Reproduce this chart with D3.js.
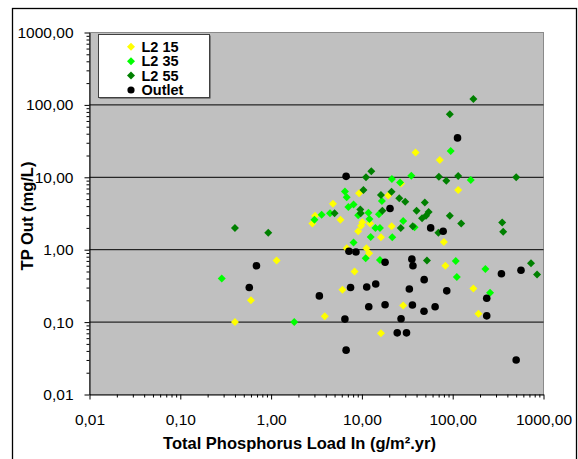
<!DOCTYPE html>
<html>
<head>
<meta charset="utf-8">
<script src="https://cdn.jsdelivr.net/npm/d3@7"></script>
<style>
  html, body { margin: 0; padding: 0; background: #fff; }
  svg { display: block; }
  text { font-family: "Liberation Sans", Arial, sans-serif; }
</style>
</head>
<body>
<svg id="chart" width="578" height="459"></svg>
<script>
// Total phosphorus load in (g/m².yr) vs. TP out (mg/L), pairs of [load, tpOut]
const l2_15 = [
  [0.40, 0.10], [0.60, 0.20], [1.15, 0.71], [2.85, 2.3], [3.05, 2.95],
  [3.9, 0.12], [4.8, 4.3], [5.8, 2.6], [6.1, 0.28], [6.8, 1.05],
  [8.3, 0.50], [9.1, 1.8], [9.3, 6.0], [9.8, 2.15], [10.1, 2.4],
  [11.2, 1.05], [12.0, 0.89], [12.3, 2.3], [16.2, 1.48], [16.2, 0.07],
  [19.5, 5.6], [21.3, 2.1], [27.0, 8.2], [28.5, 0.17], [39, 22],
  [72, 17.3], [80, 1.28], [83, 0.60], [115, 6.7], [169, 0.29], [192, 0.13]
];
const l2_35 = [
  [0.286, 0.40], [1.8, 0.10], [3.0, 2.6], [3.6, 3.05], [4.45, 3.2],
  [6.5, 6.35], [6.8, 5.3], [7.1, 3.9], [8.1, 4.2], [8.1, 1.26],
  [9.1, 3.0], [11.0, 0.76], [11.8, 3.25], [12.1, 2.65], [12.5, 1.5],
  [14.1, 2.0], [15.4, 3.1], [15.8, 2.0], [15.8, 0.72], [16.6, 4.7],
  [21.4, 9.5], [21.6, 1.48], [26.3, 8.5], [28.5, 2.5], [35, 10.5],
  [38, 2.05], [95, 23], [108, 0.70], [111, 0.42], [158, 9.2],
  [229, 0.54], [258, 0.255]
];
const l2_55 = [
  [0.40, 2.0], [0.93, 1.72], [5.0, 3.2], [9.6, 3.6], [9.7, 3.2],
  [10.4, 6.7], [11.1, 10.0], [12.7, 12.1], [16.2, 5.7], [16.8, 3.45],
  [21.2, 6.3], [25.8, 5.15], [26.8, 2.0], [30.0, 4.6], [36.3, 2.1],
  [40, 3.45], [46, 2.72], [49.3, 4.5], [50.8, 2.95], [52, 0.71],
  [54.3, 3.33], [69.5, 1.72], [70.4, 10.2], [85, 8.95], [93, 74.5],
  [93, 2.95], [115, 10.4], [124, 2.31], [169, 121], [351, 2.38],
  [360, 1.77], [500, 10.0], [728, 0.65], [850, 0.455]
];
const outlet = [
  [0.575, 0.30], [0.69, 0.60], [3.4, 0.23], [6.7, 10.3], [6.5, 0.11],
  [6.7, 0.041], [7.2, 0.95], [7.5, 0.30], [8.6, 0.93], [11.3, 0.305],
  [11.9, 0.163], [14.2, 0.336], [18.0, 0.67], [18.0, 0.174], [20.4, 3.7],
  [24.5, 0.071], [27.0, 0.111], [31.0, 0.071], [33.3, 0.286], [35.5, 0.74],
  [36.5, 0.60], [36.0, 0.172], [48.3, 0.141], [48.5, 0.386], [57.2, 2.0],
  [64, 0.163], [78.5, 1.8], [86, 0.27], [113, 35], [237, 0.214],
  [237, 0.122], [344, 0.465], [500, 0.030], [565, 0.52]
];

const seriesNames = ["L2 15", "L2 35", "L2 55", "Outlet"];
const seriesColors = ["#FFFF00", "#00FF00", "#008000", "#000000"];
const seriesShapes = ["diamond", "diamond", "diamond", "circle"];
const seriesData = [l2_15, l2_35, l2_55, outlet];

const tickValues = [0.01, 0.1, 1, 10, 100, 1000];
const tickLabels = ["0,01", "0,10", "1,00", "10,00", "100,00", "1000,00"];
const gridValues = [0.1, 1, 10, 100];

const xTitle = "Total Phosphorus Load In (g/m².yr)";
const yTitle = "TP Out (mg/L)";

const svg = d3.select("#chart");
const plot = { left: 89.5, right: 543.5, top: 32.5, bottom: 394.5 };

const x = d3.scaleLog().domain([0.01, 1000]).range([plot.left, plot.right]);
const y = d3.scaleLog().domain([0.01, 1000]).range([plot.bottom, plot.top]);

// minor ticks: 2..9 within each decade
const minorTicks = [];
for (let e = -2; e < 3; e++) {
  for (let m = 2; m <= 9; m++) minorTicks.push(m * Math.pow(10, e));
}

// outer chart frame
svg.append("rect")
  .attr("x", 12.5).attr("y", 8.5)
  .attr("width", 564).attr("height", 470)
  .attr("fill", "none").attr("stroke", "#000").attr("stroke-width", 1.3);

// plot area
svg.append("rect")
  .attr("x", plot.left).attr("y", plot.top)
  .attr("width", plot.right - plot.left).attr("height", plot.bottom - plot.top)
  .attr("fill", "#C0C0C0").attr("stroke", "#8a8a8a").attr("stroke-width", 1);

// horizontal gridlines
svg.append("g").selectAll("line")
  .data(gridValues).join("line")
  .attr("x1", plot.left).attr("x2", plot.right)
  .attr("y1", d => y(d)).attr("y2", d => y(d))
  .attr("stroke", "#000").attr("stroke-width", 1);

const tickFmt = d => tickLabels[tickValues.indexOf(d)];

// x axis: minor then major ticks with labels
const gx = svg.append("g").attr("transform", `translate(0,${plot.bottom})`);
gx.append("g")
  .call(d3.axisBottom(x).tickValues(minorTicks).tickSize(3).tickFormat(""))
  .call(g => g.select(".domain").remove());
gx.append("g")
  .call(d3.axisBottom(x).tickValues(tickValues).tickSize(5).tickSizeOuter(0).tickFormat(tickFmt))
  .call(g => g.selectAll("text").attr("font-size", 15.5).attr("fill", "#000").attr("dy", "1.42em")
      .style("font-family", '"Liberation Sans", Arial, sans-serif'));

// y axis: minor then major ticks with labels
const gy = svg.append("g").attr("transform", `translate(${plot.left},0)`);
gy.append("g")
  .call(d3.axisLeft(y).tickValues(minorTicks).tickSize(3).tickFormat(""))
  .call(g => g.select(".domain").remove());
gy.append("g")
  .call(d3.axisLeft(y).tickValues(tickValues).tickSize(5).tickSizeOuter(0).tickFormat(tickFmt))
  .call(g => g.selectAll("text").attr("font-size", 15.5).attr("fill", "#000").attr("x", -16)
      .style("font-family", '"Liberation Sans", Arial, sans-serif'));

svg.selectAll(".tick line").attr("stroke", "#000");
svg.selectAll(".domain").attr("stroke", "#000");

// markers
const diamond = d3.symbol().type(d3.symbolSquare).size(32)();
const layer = svg.append("g");
seriesData.forEach((data, i) => {
  const g = layer.append("g");
  if (seriesShapes[i] === "circle") {
    g.selectAll("circle").data(data).join("circle")
      .attr("cx", d => x(d[0])).attr("cy", d => y(d[1]))
      .attr("r", 3.8).attr("fill", seriesColors[i]);
  } else {
    g.selectAll("path").data(data).join("path")
      .attr("d", diamond)
      .attr("transform", d => `translate(${x(d[0])},${y(d[1])}) rotate(45)`)
      .attr("fill", seriesColors[i]);
  }
});

// legend
const legend = svg.append("g");
legend.append("rect")
  .attr("x", 99.5).attr("y", 35.5).attr("width", 111).attr("height", 63)
  .attr("fill", "#404040");
legend.append("rect")
  .attr("x", 98.5).attr("y", 34.5).attr("width", 111).attr("height", 63)
  .attr("fill", "#fff").attr("stroke", "#404040").attr("stroke-width", 1);
const rowY = d3.scaleLinear().domain([0, 3]).range([46.8, 90]);
seriesNames.forEach((name, i) => {
  const cy = rowY(i);
  if (seriesShapes[i] === "circle") {
    legend.append("circle").attr("cx", 131).attr("cy", cy).attr("r", 3.6).attr("fill", seriesColors[i]);
  } else {
    legend.append("path").attr("d", diamond)
      .attr("transform", `translate(131,${cy}) rotate(45)`).attr("fill", seriesColors[i]);
  }
  legend.append("text").attr("x", 141.5).attr("y", cy).attr("dy", "0.36em")
    .attr("font-size", 14.5).attr("font-weight", "bold").text(name);
});

// axis titles
svg.append("text")
  .attr("x", (plot.left + plot.right) / 2 - 17).attr("y", 443).attr("dy", "0.36em")
  .attr("text-anchor", "middle").attr("font-size", 16.5).attr("font-weight", "bold")
  .text(xTitle);
svg.append("text")
  .attr("transform", `translate(27,216) rotate(-90)`).attr("dy", "0.36em")
  .attr("text-anchor", "middle").attr("font-size", 16.5).attr("font-weight", "bold")
  .text(yTitle);
</script>
</body>
</html>
